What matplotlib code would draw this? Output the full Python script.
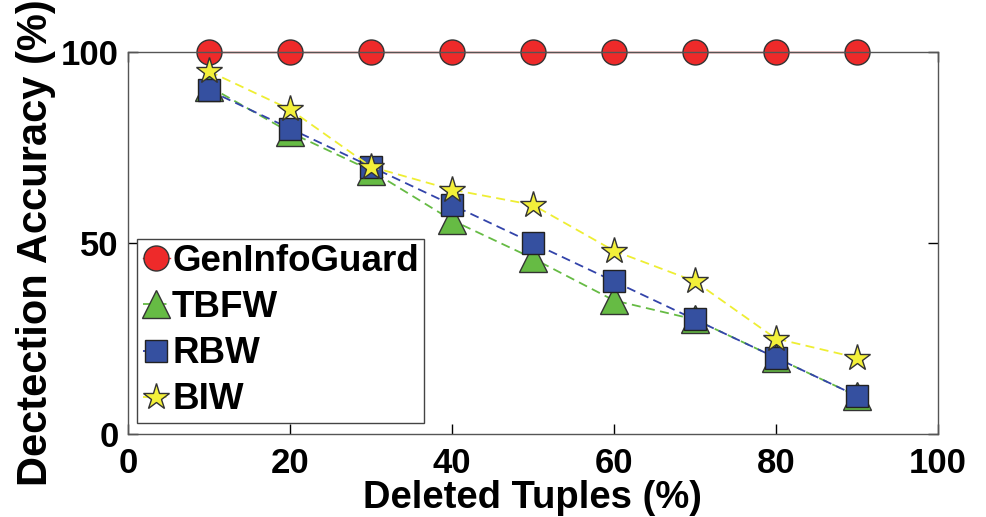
import matplotlib
matplotlib.use('Agg')
import matplotlib.pyplot as plt

plt.rcParams['font.family'] = ['Liberation Sans', 'DejaVu Sans']
plt.rcParams['font.weight'] = 'bold'

deleted = [10, 20, 30, 40, 50, 60, 70, 80, 90]
geninfoguard = [100, 100, 100, 100, 100, 100, 100, 100, 100]
tbfw = [91, 79, 69, 56, 46, 35, 30, 20, 10]
rbw = [90, 80, 70, 60, 50, 40, 30, 20, 10]
biw = [95, 85, 70, 64, 60, 48, 40, 25, 20]

fig = plt.figure(figsize=(9.86, 5.17), dpi=100)
ax = fig.add_axes([0.13, 0.1605, 0.821, 0.7385])

ax.plot(deleted, geninfoguard, color='#e8262a', lw=1, marker='o', ms=18,
        mfc='#ee2a2a', mec='#333333', mew=1, clip_on=False, zorder=5, label='GenInfoGuard')
ax.plot(deleted, tbfw, color='#66bb44', lw=1.3, ls='--', dashes=(5, 3), marker='^', ms=20,
        mfc='#66bb44', mec='#333333', mew=1, zorder=3, label='TBFW')
ax.plot(deleted, rbw, color='#3344aa', lw=1.3, ls='--', dashes=(5, 3), marker='s', ms=16,
        mfc='#3550a0', mec='#222222', mew=1, zorder=4, label='RBW')
ax.plot(deleted, biw, color='#eeee33', lw=1.3, ls='--', dashes=(5, 3), marker='*', ms=20,
        mfc='#f3f03a', mec='#333333', mew=1, zorder=6, label='BIW')

ax.set_xlim(0, 100)
ax.set_ylim(0, 100)
ax.set_xticks([0, 20, 40, 60, 80, 100])
ax.set_yticks([0, 50, 100])
ax.tick_params(direction='in', length=7, width=1, labelsize=25, top=True, right=True)
ax.tick_params(axis='x', pad=9)
ax.tick_params(axis='y', pad=7)
for s in ax.spines.values():
    s.set_linewidth(1)
    s.set_color('#555555')
    s.set_zorder(10)

ax.set_xlabel('Deleted Tuples (%)', fontsize=27.5, fontweight='bold', labelpad=0)
ax.set_ylabel('Dectection Accuracy (%)', fontsize=30, fontweight='bold', labelpad=3)

leg = ax.legend(loc='lower left', bbox_to_anchor=(0.011, 0.029), borderaxespad=0,
                fontsize=26.5, handlelength=0.75, handletextpad=0.05, borderpad=0.15,
                labelspacing=0.3, fancybox=False, edgecolor='#444444', framealpha=1)
leg.get_frame().set_linewidth(1)

fig.savefig('out.png', dpi=100)
